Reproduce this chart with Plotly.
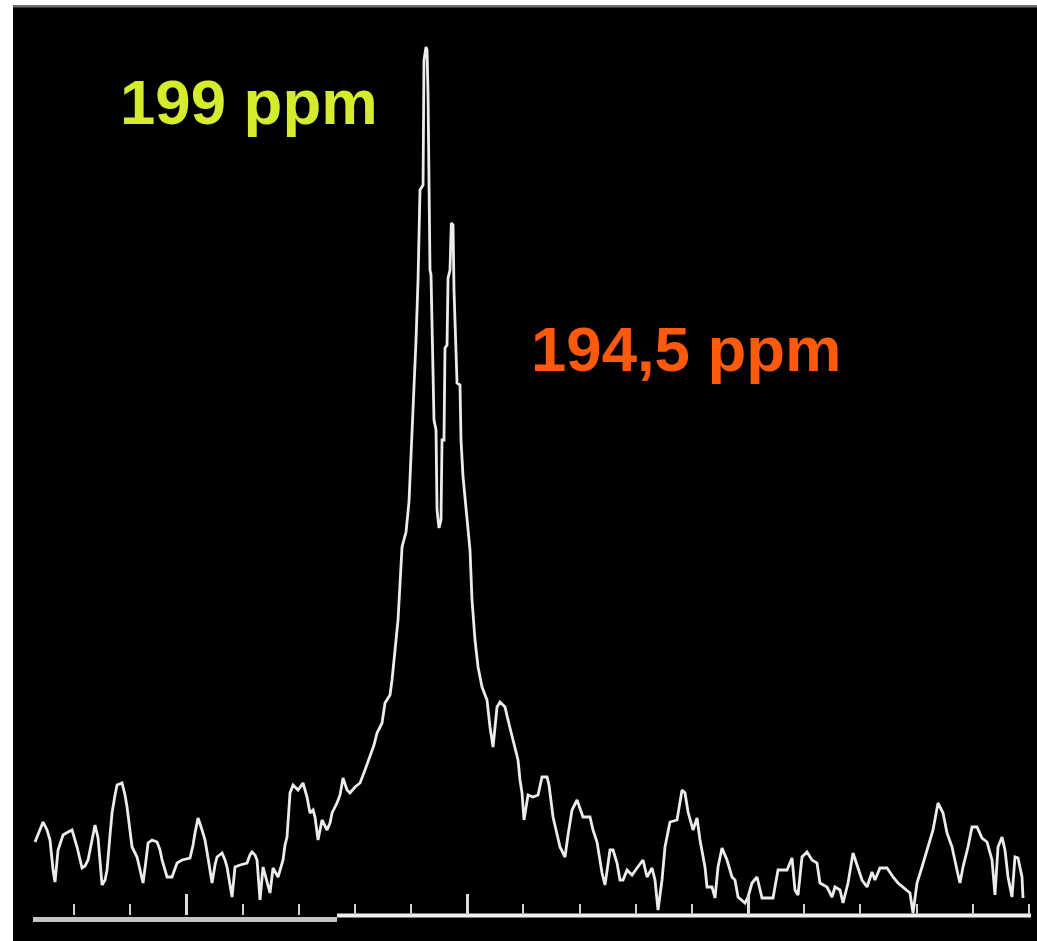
import plotly.graph_objects as go

# 13C spectrum trace: chemical shift (ppm) and intensity (arbitrary units)
shift_ppm = [
    268.60, 268.06, 267.17, 266.46, 265.93, 265.39, 265.04, 264.50, 263.61, 262.72,
    262.01, 261.12, 260.23, 259.70, 259.16, 258.45, 257.92, 257.38, 256.67, 256.14,
    255.78, 255.25, 254.89, 254.36, 254.00, 253.11, 252.58, 252.22, 251.69, 251.33,
    250.44, 249.91, 249.37, 248.84, 248.48, 247.77, 246.88, 246.35, 245.99, 245.10,
    244.21, 243.32, 242.43, 241.01, 240.47, 240.12, 239.58, 238.87, 238.34, 237.98,
    237.45, 237.09, 236.56, 236.20, 235.31, 234.78, 234.42, 233.89, 233.53, 233.00,
    232.11, 230.86, 230.33, 229.97, 229.44, 229.08, 228.55, 228.01, 227.30, 226.77,
    226.23, 225.34, 224.45, 224.10, 223.74, 223.21, 222.67, 221.78, 220.89, 220.18,
    219.65, 219.11, 218.76, 218.22, 217.51, 216.62, 216.09, 215.73, 215.20, 214.84,
    214.31, 213.77, 213.06, 212.53, 211.64, 210.75, 209.86, 208.97, 208.26, 207.72,
    206.83, 206.30, 205.41, 205.05, 204.52, 203.98, 203.27, 202.56, 202.03, 201.49,
    200.78, 200.42, 200.07, 199.53, 199.36, 199.00, 198.82, 198.64, 198.29, 198.11,
    197.58, 197.22, 197.04, 196.69, 196.33, 196.15, 195.80, 195.62, 195.26, 195.08,
    194.73, 194.50, 194.19, 194.02, 193.48, 192.95, 192.77, 192.41, 191.70, 191.17,
    190.81, 190.28, 189.74, 189.03, 188.14, 187.61, 187.07, 186.36, 185.83, 184.94,
    184.40, 183.51, 182.62, 182.27, 181.91, 181.56, 180.84, 179.95, 179.06, 178.35,
    177.46, 177.11, 176.39, 175.15, 174.26, 173.72, 173.01, 172.12, 171.05, 169.81,
    169.27, 168.56, 167.67, 167.14, 166.25, 165.71, 165.00, 164.47, 163.93, 163.22,
    162.33, 161.44, 160.37, 159.66, 158.77, 158.24, 157.70, 156.99, 156.46, 155.57,
    154.32, 153.43, 152.90, 152.36, 151.47, 150.76, 150.23, 149.34, 148.98, 148.09,
    147.56, 147.02, 146.31, 145.42, 144.53, 144.00, 143.46, 142.22, 141.68, 140.97,
    140.08, 139.19, 137.23, 136.34, 134.74, 133.85, 133.32, 132.78, 132.07, 131.18,
    130.29, 129.40, 128.87, 127.62, 126.73, 126.20, 125.31, 124.77, 123.88, 122.99,
    122.10, 121.39, 120.50, 119.61, 119.08, 118.19, 116.94, 115.87, 114.98, 114.09,
    112.85, 112.31, 111.60, 110.71, 109.82, 108.75, 107.86, 106.97, 106.26, 105.37,
    104.48, 103.95, 103.41, 102.52, 101.81, 100.92, 100.03, 99.14, 98.25, 97.72,
    97.18, 96.47, 95.94, 95.40, 94.69, 94.16, 93.62, 92.91, 92.73,
]
intensity = [
    74, 81, 94, 86, 76, 46, 34, 66, 81, 84,
    86, 69, 48, 50, 56, 76, 91, 78, 31, 36,
    46, 81, 103, 121, 131, 133, 121, 109, 81, 69,
    59, 46, 33, 56, 73, 76, 74, 66, 56, 39,
    39, 53, 56, 58, 71, 83, 98, 86, 76, 64,
    46, 33, 51, 59, 63, 56, 49, 31, 19, 49,
    51, 53, 61, 64, 61, 56, 16, 49, 33, 23,
    48, 39, 56, 71, 79, 123, 131, 126, 133, 119,
    103, 106, 99, 76, 96, 86, 93, 103, 109, 113,
    121, 138, 126, 123, 129, 133, 146, 159, 171, 183,
    193, 213, 221, 236, 263, 296, 369, 384, 414, 479,
    576, 636, 726, 731, 856, 869, 866, 821, 646, 641,
    496, 486, 406, 388, 396, 476, 476, 568, 571, 638,
    646, 693, 691, 626, 533, 531, 476, 439, 401, 366,
    316, 276, 249, 229, 216, 189, 169, 209, 214, 209,
    196, 176, 156, 136, 123, 96, 121, 119, 121, 139,
    139, 131, 99, 69, 59, 81, 106, 116, 99, 99,
    86, 74, 43, 31, 66, 66, 53, 36, 36, 46,
    41, 48, 56, 39, 48, 36, 6, 36, 69, 94,
    96, 126, 123, 104, 86, 98, 76, 49, 29, 29,
    18, 49, 68, 56, 39, 36, 19, 13, 19, 33,
    39, 18, 18, 46, 46, 58, 26, 21, 59, 64,
    56, 53, 33, 29, 19, 29, 26, 13, 33, 63,
    49, 36, 29, 44, 36, 48, 48, 39, 33, 29,
    23, 3, 33, 49, 66, 86, 113, 103, 83, 69,
    46, 33, 49, 69, 89, 89, 78, 74, 56, 21,
    69, 79, 66, 39, 19, 59, 58, 39, 18,
]

# Peak labels (text, shift of the label anchor, height of the label centre, colour)
peak_labels = ["199 ppm", "194,5 ppm"]
label_x = [253.9, 180.6]
label_y = [814, 567]
label_colors = ["#d4ec2c", "#ff5a0c"]

# Scale ticks every 10 ppm, longer ticks every 50 ppm
minor_ticks = [261.66 - 10 * k for k in range(18)]
major_ticks = [241.66, 191.66, 141.66]

X_RANGE = [272.52, 90.24]
Y_RANGE = [-25, 911]

fig = go.Figure()
fig.add_trace(go.Scatter(
    x=shift_ppm, y=intensity, mode="lines",
    line=dict(color="#ececec", width=2.8),
    hoverinfo="skip", showlegend=False,
))

for text, x, y, c in zip(peak_labels, label_x, label_y, label_colors):
    fig.add_annotation(
        x=x, y=y, xref="x", yref="y", text=f"<b>{text}</b>",
        showarrow=False, xanchor="left", yanchor="middle",
        font=dict(family="Liberation Sans, Arial, sans-serif", size=63.5, color=c),
    )

shapes = [
    # thin grey rule along the top edge of the panel
    dict(type="rect", xref="paper", yref="paper", x0=0, x1=1, y0=1 - 2.5 / 936, y1=1,
         fillcolor="#6e6e6e", line=dict(width=0), layer="above"),
    # scale bar: grey left part, white right part
    dict(type="rect", xref="x", yref="y", x0=268.96, x1=214.84, y0=-6, y1=-1,
         fillcolor="#c4c4c4", line=dict(width=0), layer="below"),
    dict(type="rect", xref="x", yref="y", x0=214.84, x1=91.31, y0=-1.5, y1=2.5,
         fillcolor="#f2f2f2", line=dict(width=0), layer="below"),
]

fig.update_layout(
    width=1037, height=941,
    margin=dict(l=13, r=0, t=5, b=0, pad=0),
    paper_bgcolor="white", plot_bgcolor="black",
    showlegend=False,
    shapes=shapes,
    xaxis=dict(
        range=X_RANGE, anchor="free", position=26 / 936,
        showline=False, showgrid=False, zeroline=False, showticklabels=False,
        ticks="inside", tickmode="array", tickvals=major_ticks,
        ticklen=21, tickwidth=2.5, tickcolor="#dcdcdc",
        minor=dict(tickmode="array", tickvals=minor_ticks, ticks="inside",
                   ticklen=11, tickwidth=2, tickcolor="#cfcfcf", showgrid=False),
    ),
    yaxis=dict(range=Y_RANGE, visible=False, fixedrange=True),
)

fig.write_html("out.html")
